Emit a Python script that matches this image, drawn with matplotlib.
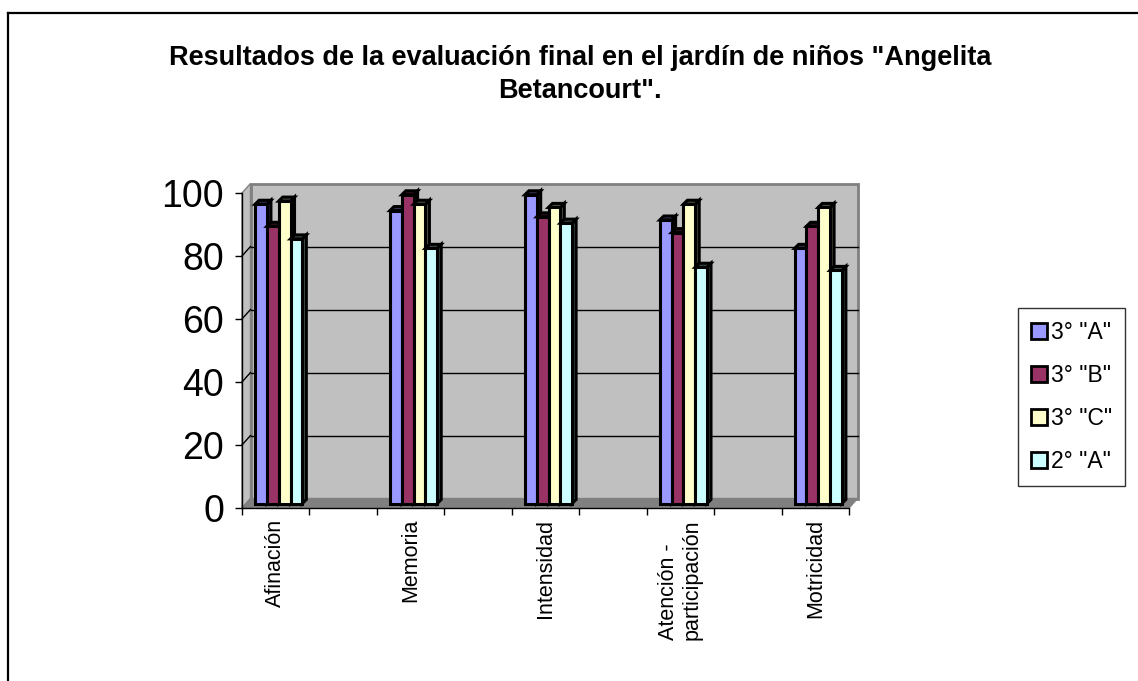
import matplotlib
matplotlib.use("Agg")
import matplotlib.pyplot as plt
from matplotlib.patches import Polygon, Patch
from matplotlib.lines import Line2D
import matplotlib.colors as mcolors

plt.rcParams['font.family'] = ['Liberation Sans', 'DejaVu Sans']

# ---- data ----
categories = ["Afinación", "Memoria", "Intensidad", "Atención -\nparticipación", "Motricidad"]
series_names = ['3° "A"', '3° "B"', '3° "C"', '2° "A"']
vals_3A = [95, 93, 98, 90, 81]
vals_3B = [88, 98, 91, 86, 88]
vals_3C = [96, 95, 94, 95, 94]
vals_2A = [84, 81, 89, 75, 74]
series_values = [vals_3A, vals_3B, vals_3C, vals_2A]
colors = ["#9999FF", "#993366", "#FFFFCC", "#CCFFFF"]
yticks = [0, 20, 40, 60, 80, 100]
title = 'Resultados de la evaluación final en el jardín de niños "Angelita\nBetancourt".'

W, H = 1138, 681
fig = plt.figure(figsize=(W / 100, H / 100), dpi=100)

# axes = front plane of the 3D chart (pixels: x 242..849, y 193..508)
L, R, T, B = 242, 849, 193, 508
ax = fig.add_axes([L / W, 1 - B / H, (R - L) / W, (B - T) / H])
XMAX = 9.0
ax.set_xlim(0, XMAX)
ax.set_ylim(0, 100)
ax.set_facecolor("none")
px_x = (R - L) / XMAX      # pixels per x unit
px_y = (B - T) / 100.0     # pixels per y unit

# back wall offset
DX, DY = 8.5 / px_x, 9.5 / px_y

# floor
ax.add_patch(Polygon([(0, 0), (XMAX, 0), (XMAX + DX, DY), (DX, DY)], closed=True,
                     facecolor="#808080", edgecolor="#808080", lw=1, clip_on=False, zorder=0.5))
# side wall
ax.add_patch(Polygon([(0, 0), (0, 100), (DX, 100 + DY), (DX, DY)], closed=True,
                     facecolor="#C0C0C0", edgecolor="#808080", lw=1, clip_on=False, zorder=0.4))
# back wall
ax.add_patch(Polygon([(DX, DY), (DX, 100 + DY), (XMAX + DX, 100 + DY), (XMAX + DX, DY)], closed=True,
                     facecolor="#C0C0C0", edgecolor="#808080", lw=2, clip_on=False, zorder=0.4))
# gridlines
for v in yticks[1:-1]:
    ax.add_line(Line2D([DX, XMAX + DX], [v + DY, v + DY], color="black", lw=1, clip_on=False, zorder=0.6))
    ax.add_line(Line2D([0, DX], [v, v + DY], color="black", lw=1, clip_on=False, zorder=0.6))

# bars
centers = [0.5 + 2 * i for i in range(len(categories))]
bw = 11.8 / px_x
fx, fy = 3.0 / px_x, 4.5 / px_y
ddx, ddy = 4.0 / px_x, 4.0 / px_y
nser = len(series_values)
z = 2
for i, c in enumerate(centers):
    for j, vals in enumerate(series_values):
        v = vals[i]
        x0 = c - nser * bw / 2 + j * bw + fx
        col = colors[j]
        dark = tuple(max(0, ch * 0.35) for ch in mcolors.to_rgb(col))
        ax.bar(x0, v, width=bw, bottom=fy, align="edge", color=col,
               edgecolor="black", linewidth=2.2, zorder=z + 0.2, clip_on=False)
        ax.add_patch(Polygon([(x0 + bw, fy), (x0 + bw + ddx, fy + ddy),
                              (x0 + bw + ddx, fy + v + ddy), (x0 + bw, fy + v)], closed=True,
                             facecolor=dark, edgecolor="black", lw=2.2, zorder=z, clip_on=False))
        ax.add_patch(Polygon([(x0, fy + v), (x0 + bw, fy + v), (x0 + bw + ddx, fy + v + ddy),
                              (x0 + ddx, fy + v + ddy)], closed=True,
                             facecolor=dark, edgecolor="black", lw=2.2, zorder=z + 0.1, clip_on=False))
        z += 1

# spines / ticks
for s in ("top", "right"):
    ax.spines[s].set_visible(False)
for s in ("left", "bottom"):
    ax.spines[s].set_color("black")
    ax.spines[s].set_linewidth(1.0)
    ax.spines[s].set_zorder(1)
ax.set_yticks(yticks)
ax.set_yticklabels([str(t) for t in yticks], fontsize=27)
ax.tick_params(axis="y", direction="out", length=5, width=1, pad=8)
ax.set_xticks([float(k) for k in range(10)])
ax.set_xticklabels([])
ax.tick_params(axis="x", which="major", direction="out", length=5, width=1)
ax.set_xticks(centers, minor=True)
ax.set_xticklabels(categories, minor=True, rotation=90, fontsize=15.5, va="top", ha="center",
                   multialignment="left")
ax.tick_params(axis="x", which="minor", length=0, pad=8)

# title
fig.text(580 / W, 1 - 45 / H, title, ha="center", va="top", fontsize=19.5, fontweight="bold",
         linespacing=1.33)

# legend
handles = [Patch(facecolor=c, edgecolor="black", linewidth=2.0) for c in colors]
leg = fig.legend(handles, series_names, loc="upper left",
                 bbox_to_anchor=(1018 / W, 1 - 308 / H), fontsize=16.5, frameon=True,
                 fancybox=False, handlelength=0.7, handleheight=0.7, handletextpad=0.2,
                 labelspacing=0.88, borderpad=0.55, borderaxespad=0)
leg.get_frame().set_edgecolor("black")
leg.get_frame().set_linewidth(1.0)

# outer chart border (left and top visible)
fig.add_artist(Line2D([8 / W, 8 / W], [0, 1 - 13 / H], color="black", lw=1.6, transform=fig.transFigure))
fig.add_artist(Line2D([8 / W, 1], [1 - 13 / H, 1 - 13 / H], color="black", lw=1.6, transform=fig.transFigure))

fig.savefig("out.png", dpi=100)
